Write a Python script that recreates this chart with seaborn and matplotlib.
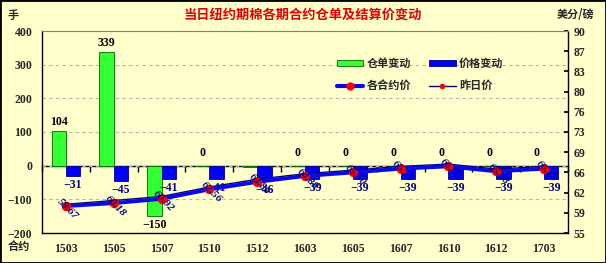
import numpy as np
import pandas as pd
import matplotlib
matplotlib.use('Agg')
import matplotlib.pyplot as plt
import seaborn as sns
from matplotlib.patches import Patch, Rectangle
from matplotlib.lines import Line2D
from matplotlib.font_manager import FontProperties

contracts = ['1503', '1505', '1507', '1510', '1512', '1603', '1605', '1607', '1610', '1612', '1703']
stock_change = [104, 339, -150, 0, -3, 0, 0, 0, 0, 0, 0]
price_change = [-31, -45, -41, -41, -46, -39, -39, -39, -39, -39, -39]
settle_price = [59.67, 60.18, 60.92, 62.56, 63.86, 64.88, 65.50, 66.15, 66.55, 65.68, 66.15]
prev_price = [59.98, 60.63, 61.33, 62.97, 64.32, 65.27, 65.89, 66.54, 66.94, 66.07, 66.54]
left_ticks = [-200, -100, 0, 100, 200, 300, 400]
right_ticks = [55, 58.5, 62, 65.5, 69, 72.5, 76, 79.5, 83, 86.5, 90]
right_labels = ['55', '59', '62', '66', '69', '73', '76', '80', '83', '87', '90']

BG = '#FFFFCC'
GREEN = '#33FF33'
BLUE = '#0000FF'
NAVY = '#000080'

sns.set_theme(style='white')
plt.rcParams['font.family'] = ['Liberation Serif', 'Noto Sans CJK SC', 'DejaVu Sans']
plt.rcParams['axes.unicode_minus'] = True

num_fp = FontProperties(family='Liberation Serif', weight='bold', size=8.5)
cjk_fp = FontProperties(family='Noto Sans CJK SC', weight='bold', size=8)

fig = plt.figure(figsize=(6.06, 2.63), dpi=100, facecolor=BG)
W, H = 606, 263
ax = fig.add_axes([42 / W, 30 / H, 526 / W, 202 / H], facecolor=BG)

df = pd.DataFrame({
    '合约': contracts * 2,
    'value': stock_change + price_change,
    'series': ['仓单变动'] * len(contracts) + ['价格变动'] * len(contracts),
})
sns.barplot(data=df, x='合约', y='value', hue='series',
            palette={'仓单变动': GREEN, '价格变动': BLUE},
            width=0.6, saturation=1, legend=False, ax=ax, zorder=2)

edge_cols = ['#006600', NAVY]
lab_cols = ['black', NAVY]
for cont, vals, ec, lc in zip(ax.containers, [stock_change, price_change], edge_cols, lab_cols):
    for bar, v in zip(cont, vals):
        bar.set_edgecolor(ec)
        bar.set_linewidth(0.6)
        if v != 0 and abs(v) < 5:
            continue
        cx = bar.get_x() + bar.get_width() / 2
        top = bar.get_y() + bar.get_height()
        if v > 0:
            off, va = 2, 'bottom'
        elif v < 0:
            off, va = -2, 'top'
        else:
            off, va = 5, 'bottom'
        txt = str(v).replace('-', '\u2212')
        ax.annotate(txt, (cx, top), xytext=(0, off), textcoords='offset points',
                    ha='center', va=va, fontproperties=num_fp, color=lc, zorder=5)

ax.set_ylim(-200, 400)
ax.set_yticks(left_ticks)
ax.yaxis.grid(True, color='#B4B4B4', linestyle=(0, (3, 3)), linewidth=0.8)
ax.xaxis.grid(False)
ax.set_axisbelow(True)
ax.set_xlabel('')
ax.set_ylabel('')
ax.set_xticks(range(len(contracts)), contracts)
ax.tick_params(axis='x', length=0, pad=7)
ax.tick_params(axis='y', length=0, pad=7)
for lbl in ax.get_xticklabels() + ax.get_yticklabels():
    lbl.set_fontproperties(num_fp)
for side in ['left', 'bottom']:
    ax.spines[side].set_color('black')
    ax.spines[side].set_linewidth(1)
for side in ['top', 'right']:
    ax.spines[side].set_visible(False)

# zero category line with ticks at category boundaries
sec = ax.secondary_xaxis(200 / 600)
sec.set_xticks(np.arange(len(contracts) + 1) - 0.5)
sec.set_xticklabels([])
sec.tick_params(axis='x', direction='out', length=4, color='black', width=1)
for s in sec.spines.values():
    s.set_color('black')
    s.set_linewidth(1)

ax2 = ax.twinx()
xs = np.arange(len(contracts))
sns.lineplot(x=xs, y=prev_price, ax=ax2, color=NAVY, linewidth=1, marker='o',
             markersize=3, markerfacecolor='red', markeredgecolor='red', zorder=3)
sns.lineplot(x=xs, y=settle_price, ax=ax2, color='#0A0AE6', linewidth=2.8, marker='o',
             markersize=6, markerfacecolor='red', markeredgecolor='red', zorder=4)
for xi, p in zip(xs, settle_price):
    ax2.annotate(f'{p:.2f}', (xi, p), xytext=(1.5, -2), textcoords='offset points',
                 rotation=-45, ha='center', va='center', fontsize=8,
                 fontstyle='italic', fontweight='bold', color=NAVY,
                 family='Liberation Serif', zorder=6)

ax2.set_ylim(55, 90)
ax2.set_yticks(right_ticks, right_labels)
ax2.tick_params(axis='y', direction='in', length=3, pad=4, color='black')
for lbl in ax2.get_yticklabels():
    lbl.set_fontproperties(num_fp)
ax2.set_ylabel('')
ax2.grid(False)
ax2.spines['right'].set_color('black')
ax2.spines['right'].set_linewidth(1)
ax2.spines['top'].set_color('#808080')
ax2.spines['top'].set_linewidth(0.8)
ax2.spines['left'].set_visible(False)
ax2.spines['bottom'].set_visible(False)
ax.set_xlim(-0.5, len(contracts) - 0.5)

h_stock = Patch(facecolor=GREEN, edgecolor='#006600', linewidth=0.6)
h_price = Patch(facecolor=BLUE, edgecolor=NAVY, linewidth=0.6)
h_settle = Line2D([], [], color='#0A0AE6', linewidth=3, marker='o', markersize=5,
                  markerfacecolor='red', markeredgecolor='red')
h_prev = Line2D([], [], color=NAVY, linewidth=1, marker='o', markersize=3,
                markerfacecolor='red', markeredgecolor='red')
leg = ax2.legend([h_stock, h_settle, h_price, h_prev],
                 ['仓单变动', '各合约价', '价格变动', '昨日价'],
                 ncol=2, loc='upper left', bbox_to_anchor=(0.56, 0.87),
                 frameon=False, prop=cjk_fp, handlelength=2.4, handleheight=0.5,
                 columnspacing=1.6, labelspacing=0.8, handletextpad=0.3,
                 borderaxespad=0, borderpad=0)

fig.text(303 / W, 1 - 15 / H, '当日纽约期棉各期合约仓单及结算价变动', ha='center', va='center',
         color='#E00000', fontproperties=FontProperties(family='Noto Sans CJK SC', weight='bold', size=9.5))
fig.text(13 / W, 1 - 15 / H, '手', ha='center', va='center', fontproperties=cjk_fp)
fig.text(576 / W, 1 - 15 / H, '美分/磅', ha='center', va='center', fontproperties=cjk_fp)
fig.text(19 / W, 1 - 246 / H, '合约', ha='center', va='center', fontproperties=cjk_fp)

fig.patches.append(Rectangle((0, 0), 1, 1, transform=fig.transFigure, fill=False,
                             edgecolor='black', linewidth=2))

fig.savefig('out.png', dpi=100, facecolor=BG)
